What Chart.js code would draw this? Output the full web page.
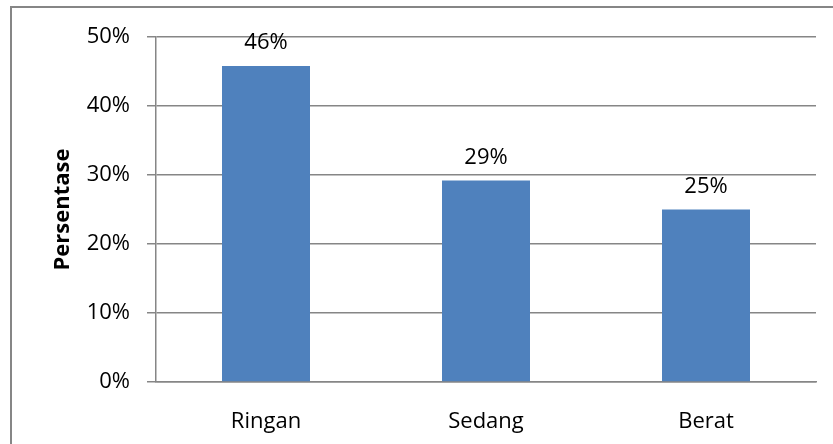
<!DOCTYPE html>
<html>
<head>
<meta charset="utf-8">
<script src="https://cdn.jsdelivr.net/npm/chart.js@4/dist/chart.umd.min.js"></script>
<style>
  html, body { margin: 0; padding: 0; background: #fff; }
  canvas { display: block; }
</style>
</head>
<body>
<canvas id="chart" width="833" height="444"></canvas>
<script>
// data
const categories = ['Ringan', 'Sedang', 'Berat'];
const percentages = [45.8, 29.2, 25.0];
const yTicks = [0, 10, 20, 30, 40, 50];

const FONT = '"Open Sans", "Liberation Sans", sans-serif';
const GRAY = '#868686';
const BLUE = '#4F81BD';

// outer chart frame (cut off on the right and bottom in the reference)
const framePlugin = {
  id: 'frame',
  beforeDraw(chart) {
    const ctx = chart.ctx;
    ctx.save();
    ctx.fillStyle = '#fff';
    ctx.fillRect(0, 0, chart.width, chart.height);
    ctx.strokeStyle = GRAY;
    ctx.lineWidth = 2;
    ctx.strokeRect(11, 7, 900, 900);
    ctx.restore();
  }
};

// value labels above bars
const valueLabels = {
  id: 'valueLabels',
  afterDatasetsDraw(chart) {
    const ctx = chart.ctx;
    const meta = chart.getDatasetMeta(0);
    ctx.save();
    ctx.font = '22px ' + FONT;
    ctx.fillStyle = '#000';
    ctx.textAlign = 'center';
    ctx.textBaseline = 'alphabetic';
    meta.data.forEach((bar, i) => {
      ctx.fillText(Math.round(percentages[i]) + '%', bar.x, bar.y - 17);
    });
    ctx.restore();
  }
};

new Chart(document.getElementById('chart'), {
  type: 'bar',
  data: {
    labels: categories,
    datasets: [{
      data: percentages,
      backgroundColor: BLUE,
      borderWidth: 0,
      barPercentage: 0.4,
      categoryPercentage: 1
    }]
  },
  options: {
    responsive: false,
    animation: false,
    layout: { padding: { left: 0, top: 37, right: 17, bottom: 0 } },
    plugins: {
      legend: { display: false },
      tooltip: { enabled: false }
    },
    scales: {
      x: {
        grid: { display: true, drawOnChartArea: false, drawTicks: false, color: GRAY },
        border: { display: true, color: GRAY, width: 1.5 },
        ticks: { color: '#000', font: { family: FONT, size: 22 }, padding: 27 },
        afterFit(axis) { axis.height = 62; }
      },
      y: {
        min: 0,
        max: 50,
        afterBuildTicks(axis) { axis.ticks = yTicks.map(v => ({ value: v })); },
        grid: { color: GRAY, lineWidth: 1.5, tickLength: 9 },
        border: { display: true, color: GRAY, width: 1.5 },
        ticks: {
          color: '#000',
          font: { family: FONT, size: 22 },
          padding: 17,
          callback: v => v + '%'
        },
        title: {
          display: true,
          text: 'Persentase',
          color: '#000',
          font: { family: FONT, size: 22, weight: 'bold' },
          padding: { top: 50, bottom: 0 }
        },
        afterFit(axis) { axis.width = 156; }
      }
    }
  },
  plugins: [framePlugin, valueLabels]
});
</script>
</body>
</html>
